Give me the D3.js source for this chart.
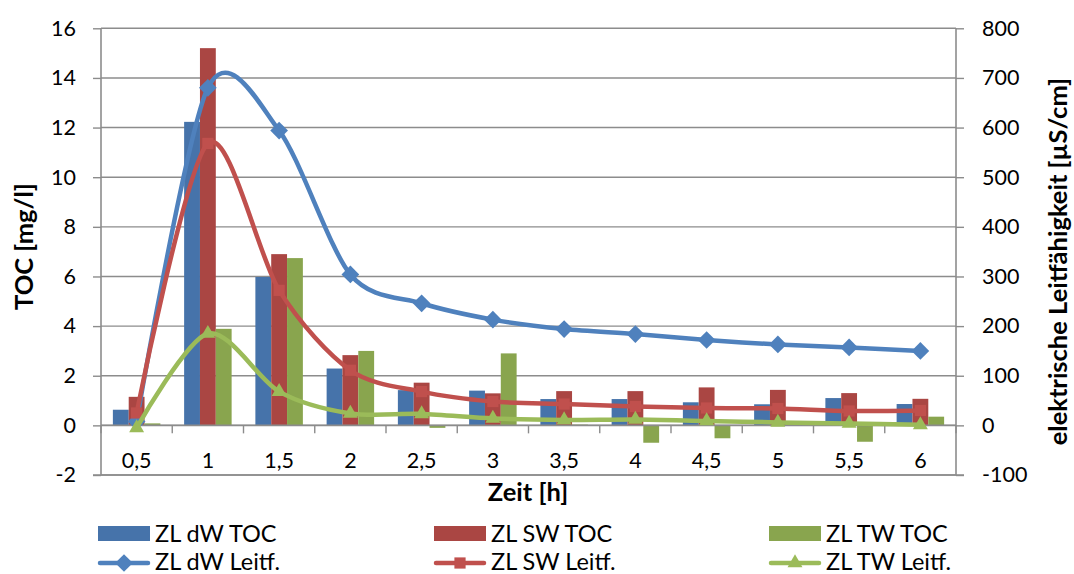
<!DOCTYPE html>
<html>
<head>
<meta charset="utf-8">
<script src="https://cdn.jsdelivr.net/npm/d3@7"></script>
<style>
  html, body { margin: 0; padding: 0; background: #fff; }
  svg { display: block; font-family: Lato, "Open Sans", sans-serif; }
</style>
</head>
<body>
<svg id="chart" width="1074" height="574"></svg>
<script>
// Zeitpunkte (Kategorien) der Messreihe
const categories = ["0,5", "1", "1,5", "2", "2,5", "3", "3,5", "4", "4,5", "5", "5,5", "6"];

// TOC [mg/l] je Zulauf
const tocDW = [0.63, 12.23, 5.98, 2.29, 1.42, 1.40, 1.06, 1.06, 0.93, 0.85, 1.10, 0.86];
const tocSW = [1.15, 15.2, 6.9, 2.83, 1.72, 1.29, 1.38, 1.38, 1.53, 1.43, 1.30, 1.07];
const tocTW = [0.08, 3.89, 6.74, 3.0, -0.1, 2.9, 0.03, -0.7, -0.52, 0.05, -0.66, 0.35];

// elektrische Leitfähigkeit [µS/cm] je Zulauf
const leitDW = [8, 680, 594, 304, 246, 213, 194, 184, 172, 163, 157, 150];
const leitSW = [25, 568, 272, 111, 68, 48, 43, 38, 35, 34, 29, 30];
const leitTW = [-5, 185, 68, 24, 23, 14, 11, 12, 9, 6, 4, 1];

// Achsenbeschriftung
const tocTicks = [-2, 0, 2, 4, 6, 8, 10, 12, 14, 16];
const leitTicks = [-100, 0, 100, 200, 300, 400, 500, 600, 700, 800];

const barSeries = [
  { name: "ZL dW TOC", values: tocDW, color: "#4673AA" },
  { name: "ZL SW TOC", values: tocSW, color: "#AA4643" },
  { name: "ZL TW TOC", values: tocTW, color: "#89A54E" }
];
const lineSeries = [
  { name: "ZL dW Leitf.", values: leitDW, color: "#4F81BD", symbol: d3.symbolDiamond2, size: 200 },
  { name: "ZL SW Leitf.", values: leitSW, color: "#C0504D", symbol: d3.symbolSquare2, size: 160 },
  { name: "ZL TW Leitf.", values: leitTW, color: "#9BBB59", symbol: d3.symbolTriangle2, size: 160 }
];

const svg = d3.select("#chart");
const plot = { left: 101, right: 956, top: 28.3, bottom: 475 };
const gridColor = "#8C8C8C";
const tickFont = 21.5;
const legendFont = 23.5;
const titleFont = 25.5;

const x = d3.scaleBand().domain(categories).range([plot.left, plot.right]).padding(0);
const groupWidth = x.bandwidth() / 1.5;
const xInner = d3.scaleBand().domain(barSeries.map(s => s.name))
  .range([0, groupWidth]).padding(0);
const yL = d3.scaleLinear().domain([-2, 16]).range([plot.bottom, plot.top]);
const yR = d3.scaleLinear().domain([-100, 800]).range([plot.bottom, plot.top]);
const intFmt = d => d3.format("d")(d).replace("−", "-");

// Gitternetzlinien
svg.append("g").selectAll("line").data(tocTicks).join("line")
  .attr("x1", plot.left).attr("x2", plot.right)
  .attr("y1", d => yL(d)).attr("y2", d => yL(d))
  .attr("stroke", gridColor).attr("stroke-width", 1.4);

// Linke Achse (TOC) und rechte Achse (Leitfähigkeit)
const axisL = svg.append("g").attr("transform", `translate(${plot.left},0)`)
  .call(d3.axisLeft(yL).tickValues(tocTicks).tickSize(8).tickPadding(17).tickFormat(intFmt));
const axisR = svg.append("g").attr("transform", `translate(${plot.right},0)`)
  .call(d3.axisRight(yR).tickValues(leitTicks).tickSize(8).tickPadding(18).tickFormat(intFmt));
[axisL, axisR].forEach(a => {
  a.select(".domain").attr("stroke", gridColor).attr("stroke-width", 1.6)
    .attr("d", `M0,${plot.top}V${plot.bottom}`);
  a.selectAll(".tick line").attr("stroke", gridColor).attr("stroke-width", 1.4);
  a.selectAll("text").attr("font-size", tickFont).attr("fill", "#000")
    .attr("font-family", "Lato, sans-serif");
});

// Bodenlinie mit Überstand
svg.append("line").attr("x1", plot.left - 8).attr("x2", plot.right + 8)
  .attr("y1", plot.bottom).attr("y2", plot.bottom)
  .attr("stroke", gridColor).attr("stroke-width", 1.4);

// Balken
barSeries.forEach(s => {
  svg.append("g").selectAll("rect").data(s.values).join("rect")
    .attr("x", (d, i) => x(categories[i]) + (x.bandwidth() - groupWidth) / 2 + xInner(s.name))
    .attr("width", xInner.bandwidth())
    .attr("y", d => yL(Math.max(0, d)))
    .attr("height", d => Math.abs(yL(d) - yL(0)))
    .attr("fill", s.color);
});

// Kategorienachse bei 0
const axisX = svg.append("g").attr("transform", `translate(0,${yL(0)})`);
axisX.append("line").attr("x1", plot.left).attr("x2", plot.right)
  .attr("stroke", gridColor).attr("stroke-width", 1.6);
const bounds = categories.map(c => x(c)).concat([plot.right]);
axisX.selectAll("line.tk").data(bounds).join("line").attr("class", "tk")
  .attr("x1", d => d).attr("x2", d => d).attr("y1", 0).attr("y2", 8)
  .attr("stroke", gridColor).attr("stroke-width", 1.4);
axisX.selectAll("text").data(categories).join("text")
  .attr("x", d => x(d) + x.bandwidth() / 2).attr("y", 43)
  .attr("text-anchor", "middle").attr("font-size", tickFont).text(d => d);

// Geglättete Linien mit Markern
lineSeries.forEach(s => {
  const pts = s.values.map((v, i) => [x(categories[i]) + x.bandwidth() / 2, yR(v)]);
  svg.append("path").datum(pts)
    .attr("d", d3.line().curve(d3.curveCardinal.tension(0.12)))
    .attr("fill", "none").attr("stroke", s.color).attr("stroke-width", 4.5)
    .attr("stroke-linejoin", "round").attr("stroke-linecap", "round");
  svg.append("g").selectAll("path").data(pts).join("path")
    .attr("transform", d => `translate(${d[0]},${d[1]})`)
    .attr("d", d3.symbol(s.symbol, s.size)).attr("fill", s.color);
});

// Achsentitel
svg.append("text").attr("transform", `translate(33,${(plot.top + plot.bottom) / 2 - 5}) rotate(-90)`)
  .attr("text-anchor", "middle").attr("font-weight", "bold").attr("font-size", titleFont)
  .text("TOC [mg/l]");
svg.append("text").attr("transform", `translate(1067,${(plot.top + plot.bottom) / 2 + 10}) rotate(-90)`)
  .attr("text-anchor", "middle").attr("font-weight", "bold").attr("font-size", titleFont)
  .text("elektrische Leitfähigkeit [µS/cm]");
svg.append("text").attr("x", 528).attr("y", 501)
  .attr("text-anchor", "middle").attr("font-weight", "bold").attr("font-size", titleFont)
  .text("Zeit [h]");

// Legende
const legendCols = [98, 434, 769];
const legendRows = [533.5, 563];
barSeries.forEach((s, i) => {
  const g = svg.append("g").attr("transform", `translate(${legendCols[i]},${legendRows[0]})`);
  g.append("rect").attr("x", 0).attr("y", -7.5).attr("width", 52).attr("height", 15).attr("fill", s.color);
  g.append("text").attr("x", 57).attr("y", 8).attr("font-size", legendFont).text(s.name);
});
lineSeries.forEach((s, i) => {
  const g = svg.append("g").attr("transform", `translate(${legendCols[i]},${legendRows[1]})`);
  g.append("line").attr("x1", 2).attr("x2", 50).attr("stroke", s.color)
    .attr("stroke-width", 4.5).attr("stroke-linecap", "round");
  g.append("path").attr("transform", "translate(26,0)")
    .attr("d", d3.symbol(s.symbol, s.size)).attr("fill", s.color);
  g.append("text").attr("x", 57).attr("y", 6.5).attr("font-size", legendFont).text(s.name);
});
</script>
</body>
</html>
